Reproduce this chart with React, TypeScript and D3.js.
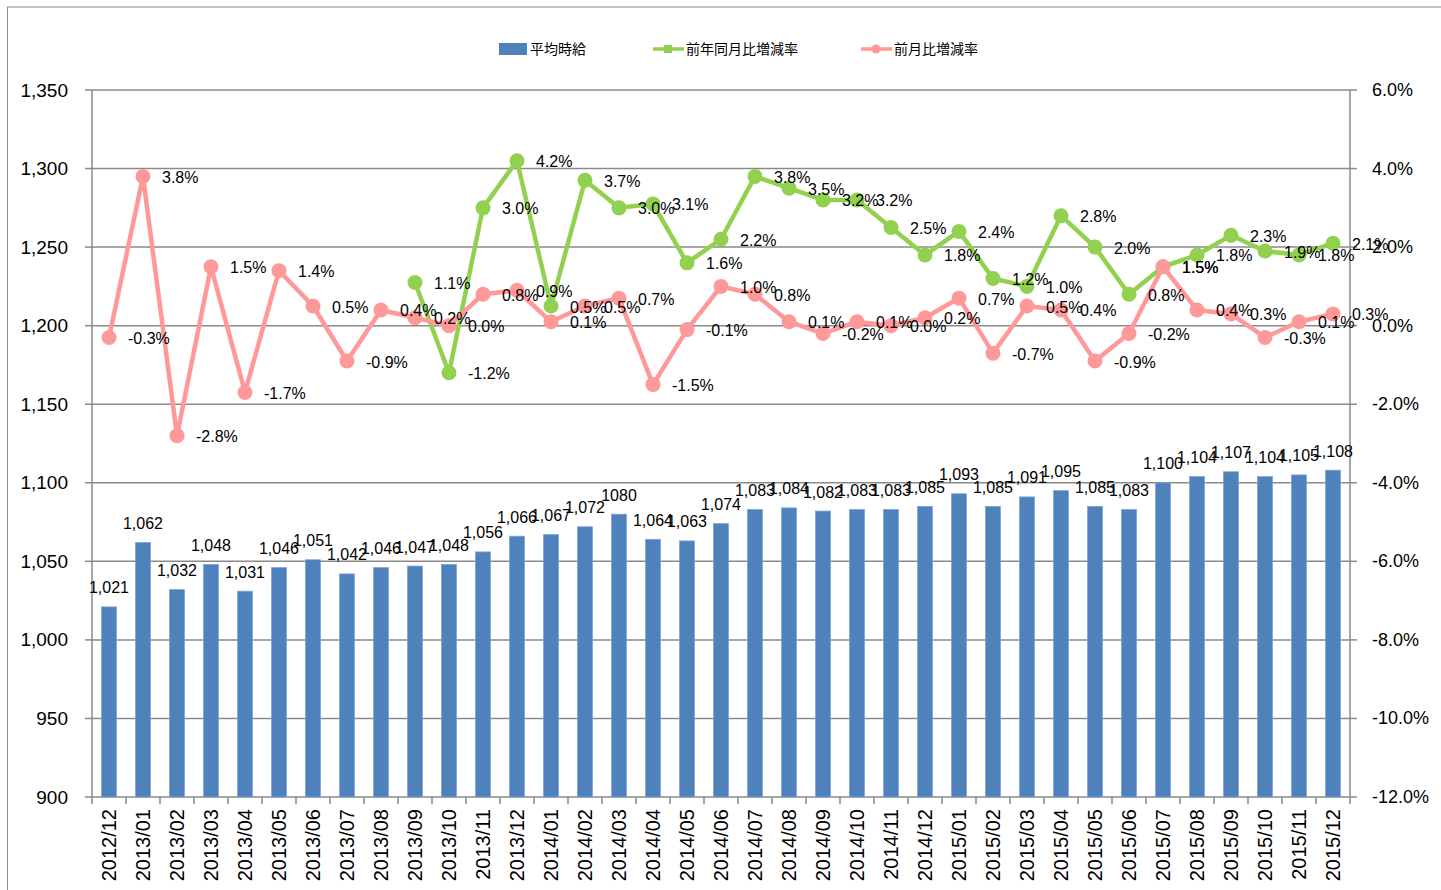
import React from "react";
import * as d3 from "d3";

const months = [
  "2012/12","2013/01","2013/02","2013/03","2013/04","2013/05","2013/06","2013/07","2013/08","2013/09","2013/10","2013/11","2013/12",
  "2014/01","2014/02","2014/03","2014/04","2014/05","2014/06","2014/07","2014/08","2014/09","2014/10","2014/11","2014/12",
  "2015/01","2015/02","2015/03","2015/04","2015/05","2015/06","2015/07","2015/08","2015/09","2015/10","2015/11","2015/12",
];

const wages = [
  1021, 1062, 1032, 1048, 1031, 1046, 1051, 1042, 1046, 1047, 1048, 1056, 1066,
  1067, 1072, 1080, 1064, 1063, 1074, 1083, 1084, 1082, 1083, 1083, 1085,
  1093, 1085, 1091, 1095, 1085, 1083, 1100, 1104, 1107, 1104, 1105, 1108,
];

// 前年同月比増減率 (starts at 2013/09)
const yoy: (number | null)[] = [
  null, null, null, null, null, null, null, null, null, 1.1, -1.2, 3.0, 4.2,
  0.5, 3.7, 3.0, 3.1, 1.6, 2.2, 3.8, 3.5, 3.2, 3.2, 2.5, 1.8,
  2.4, 1.2, 1.0, 2.8, 2.0, 0.8, 1.5, 1.8, 2.3, 1.9, 1.8, 2.1,
];

// 前月比増減率
const mom = [
  -0.3, 3.8, -2.8, 1.5, -1.7, 1.4, 0.5, -0.9, 0.4, 0.2, 0.0, 0.8, 0.9,
  0.1, 0.5, 0.7, -1.5, -0.1, 1.0, 0.8, 0.1, -0.2, 0.1, 0.0, 0.2,
  0.7, -0.7, 0.5, 0.4, -0.9, -0.2, 1.5, 0.4, 0.3, -0.3, 0.1, 0.3,
];

const leftTicks = [900, 950, 1000, 1050, 1100, 1150, 1200, 1250, 1300, 1350];
const rightTicks = [-12, -10, -8, -6, -4, -2, 0, 2, 4, 6];

const seriesNames = ["平均時給", "前年同月比増減率", "前月比増減率"];

const BLUE = "#4F81BD";
const GREEN = "#92D050";
const PINK = "#FF9999";
const GRID = "#8A8A8A";
const LABEL_FONT = "'Liberation Sans', Arial, sans-serif";
const CJK_FONT = "'Noto Sans CJK JP', sans-serif";

export default function App() {
  const W = 1441;
  const H = 890;
  const left = 92, right = 1350, top = 90, bottom = 797;

  const x = d3.scaleBand<string>().domain(months).range([left, right]).paddingInner(0).paddingOuter(0);
  const yL = d3.scaleLinear().domain([900, 1350]).range([bottom, top]);
  const yR = d3.scaleLinear().domain([-12, 6]).range([bottom, top]);
  const cx = (m: string) => (x(m) as number) + x.bandwidth() / 2;
  const barW = x.bandwidth() * 0.44;

  const fmtWage = d3.format(",");
  const wageLabels = wages.map((v, i) => (i === 15 ? String(v) : fmtWage(v)));
  const fmtPct = (v: number) => `${v.toFixed(1)}%`;

  const line = d3
    .line<[string, number | null]>()
    .defined((d) => d[1] !== null)
    .x((d) => cx(d[0]))
    .y((d) => yR(d[1] as number));

  const yoyPairs: [string, number | null][] = months.map((m, i) => [m, yoy[i]]);
  const momPairs: [string, number | null][] = months.map((m, i) => [m, mom[i]]);

  return (
    <svg width={W} height={H} style={{ position: "absolute", left: 0, top: 0, background: "#fff" }}>
      <rect x={7.5} y={7} width={W} height={H} fill="#fff" stroke="#8C8C8C" strokeWidth={1} />

      {/* gridlines */}
      {leftTicks.map((t) => (
        <line key={"g" + t} x1={left} x2={right} y1={yL(t)} y2={yL(t)} stroke={GRID} strokeWidth={1.5} />
      ))}
      {/* left axis */}
      <line x1={left} x2={left} y1={top} y2={bottom} stroke={GRID} strokeWidth={1.5} />
      {leftTicks.map((t) => (
        <g key={"lt" + t}>
          <line x1={left - 7} x2={left} y1={yL(t)} y2={yL(t)} stroke={GRID} strokeWidth={1.5} />
          <text x={68} y={yL(t)} textAnchor="end" dominantBaseline="central" fontFamily={LABEL_FONT} fontSize={19} fill="#000">
            {fmtWage(t)}
          </text>
        </g>
      ))}
      {/* right axis */}
      <line x1={right} x2={right} y1={top} y2={bottom} stroke={GRID} strokeWidth={1.5} />
      {rightTicks.map((t) => (
        <g key={"rt" + t}>
          <line x1={right} x2={right + 7} y1={yR(t)} y2={yR(t)} stroke={GRID} strokeWidth={1.5} />
          <text x={right + 22} y={yR(t)} textAnchor="start" dominantBaseline="central" fontFamily={LABEL_FONT} fontSize={18} fill="#000">
            {fmtPct(t)}
          </text>
        </g>
      ))}
      {/* x axis ticks and labels */}
      {months.map((m) => (
        <line key={"xt" + m} x1={x(m) as number} x2={x(m) as number} y1={bottom} y2={bottom + 7} stroke={GRID} strokeWidth={1.5} />
      ))}
      <line x1={right} x2={right} y1={bottom} y2={bottom + 7} stroke={GRID} strokeWidth={1.5} />
      {months.map((m) => (
        <text
          key={"xl" + m}
          transform={`translate(${cx(m)},${bottom + 12}) rotate(-90)`}
          textAnchor="end"
          dominantBaseline="central"
          fontFamily={LABEL_FONT}
          fontSize={20}
          fill="#000"
        >
          {m}
        </text>
      ))}

      {/* bars */}
      {months.map((m, i) => (
        <rect key={"b" + m} x={cx(m) - barW / 2} y={yL(wages[i])} width={barW} height={yL(900) - yL(wages[i])} fill={BLUE} stroke="#7FA3D3" strokeWidth={0.8} />
      ))}

      {/* lines */}
      <path d={line(yoyPairs) as string} fill="none" stroke={GREEN} strokeWidth={4.5} strokeLinejoin="round" />
      {yoyPairs.filter((d) => d[1] !== null).map((d) => (
        <circle key={"gy" + d[0]} cx={cx(d[0])} cy={yR(d[1] as number)} r={7.5} fill={GREEN} />
      ))}
      <path d={line(momPairs) as string} fill="none" stroke={PINK} strokeWidth={4.5} strokeLinejoin="round" />
      {momPairs.map((d) => (
        <circle key={"pm" + d[0]} cx={cx(d[0])} cy={yR(d[1] as number)} r={7.5} fill={PINK} />
      ))}

      {/* bar labels */}
      {months.map((m, i) => (
        <text key={"bl" + m} x={cx(m)} y={yL(wages[i]) - 19} textAnchor="middle" dominantBaseline="central" fontFamily={LABEL_FONT} fontSize={16} fill="#000">
          {wageLabels[i]}
        </text>
      ))}
      {/* line labels */}
      {yoyPairs.filter((d) => d[1] !== null).map((d) => (
        <text key={"gl" + d[0]} x={cx(d[0]) + 19} y={yR(d[1] as number) + 1} textAnchor="start" dominantBaseline="central" fontFamily={LABEL_FONT} fontSize={16} fill="#000">
          {fmtPct(d[1] as number)}
        </text>
      ))}
      {momPairs.map((d) => (
        <text key={"pl" + d[0]} x={cx(d[0]) + 19} y={yR(d[1] as number) + 1} textAnchor="start" dominantBaseline="central" fontFamily={LABEL_FONT} fontSize={16} fill="#000">
          {fmtPct(d[1] as number)}
        </text>
      ))}

      {/* legend */}
      <g fontFamily={CJK_FONT} fontSize={14} fill="#000">
        <rect x={499} y={43} width={28} height={12} fill={BLUE} />
        <text x={530} y={48} dominantBaseline="central">{seriesNames[0]}</text>
        <line x1={653} x2={684} y1={49} y2={49} stroke={GREEN} strokeWidth={3.5} />
        <rect x={664} y={45} width={8} height={8} fill={GREEN} />
        <text x={686} y={48} dominantBaseline="central">{seriesNames[1]}</text>
        <line x1={861} x2={892} y1={49} y2={49} stroke={PINK} strokeWidth={3.5} />
        <circle cx={876} cy={49} r={4.5} fill={PINK} />
        <text x={894} y={48} dominantBaseline="central">{seriesNames[2]}</text>
      </g>
    </svg>
  );
}
